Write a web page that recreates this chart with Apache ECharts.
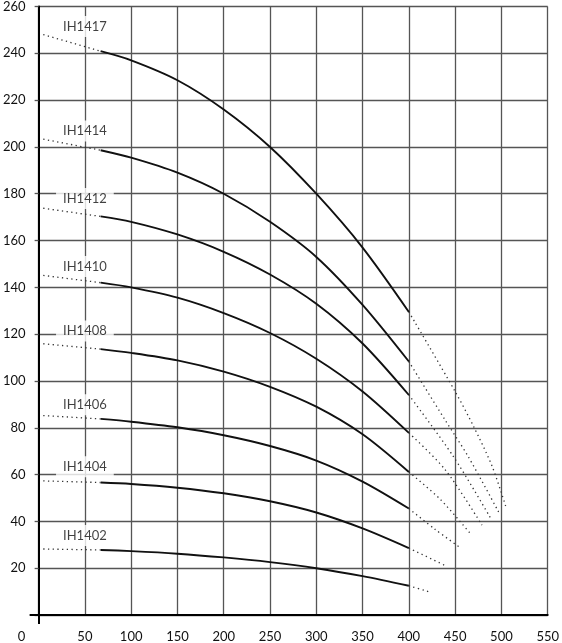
<!DOCTYPE html>
<html>
<head>
<meta charset="utf-8">
<title>IH14 pump curves</title>
<script src="https://cdn.jsdelivr.net/npm/echarts@6/dist/echarts.min.js"></script>
<style>
  html, body { margin: 0; padding: 0; background: #fff; }
  #main { width: 562px; height: 643px; }
</style>
</head>
<body>
<div id="main"></div>
<script>
// pump models, top to bottom
var models = ['IH1417', 'IH1414', 'IH1412', 'IH1410', 'IH1408', 'IH1406', 'IH1404', 'IH1402'];

// flow values where the solid curves were read
var solidFlow = [67, 100, 150, 200, 250, 300, 350, 400];

// head values along each solid curve
var headIH1417 = [240.9, 237, 228.5, 216, 200, 180, 157, 129.5];
var headIH1414 = [198.6, 195.4, 189, 180, 168, 153, 132.5, 108.3];
var headIH1412 = [170.3, 168, 162.6, 155.2, 145.5, 133, 116, 94];
var headIH1410 = [142, 140, 135.6, 129, 120.5, 109.5, 95.5, 77.8];
var headIH1408 = [113.6, 112, 108.8, 104, 97.5, 89, 77.2, 61.1];
var headIH1406 = [83.8, 82.6, 80.2, 76.8, 72.2, 66, 57, 45.5];
var headIH1404 = [56.6, 56, 54.4, 52, 48.6, 43.8, 37, 28.6];
var headIH1402 = [27.8, 27.3, 26.2, 24.6, 22.6, 20, 16.6, 12.5];

// dotted start on the left (flow, heads)
var leftFlow = 5;
var leftHead = [248, 203.3, 173.8, 145.1, 115.9, 85.2, 57.3, 28.2];

// dotted tails on the right [flow, head]
var tailIH1417 = [[400, 129.5], [450, 95.5], [470, 80.5], [490, 63.5], [505, 46]];
var tailIH1414 = [[400, 108.3], [439, 83.4], [464, 67.8], [497, 44]];
var tailIH1412 = [[400, 94], [448, 67.8], [488, 41.6]];
var tailIH1410 = [[400, 77.8], [439, 62.2], [479, 38.4]];
var tailIH1408 = [[400, 61.1], [434, 49.4], [467, 34.5]];
var tailIH1406 = [[400, 45.5], [428, 36.7], [454, 29.2]];
var tailIH1404 = [[400, 28.6], [441, 20.8]];
var tailIH1402 = [[400, 12.5], [421, 10]];

// where the model names sit
var labelFlow = 50;
var labelHead = [251.5, 206.8, 178, 148.9, 121.3, 89.8, 63.3, 34];

// tick values
var xTicks = { min: 0, max: 550, step: 50 };
var yTicks = { min: 0, max: 260, step: 20 };

var heads = [headIH1417, headIH1414, headIH1412, headIH1410, headIH1408, headIH1406, headIH1404, headIH1402];
var tails = [tailIH1417, tailIH1414, tailIH1412, tailIH1410, tailIH1408, tailIH1406, tailIH1404, tailIH1402];

var chart = echarts.init(document.getElementById('main'));

var font = 'Lato, "DejaVu Sans", sans-serif';
var dots = [1.3, 3.4];
var gridColor = '#555';

var series = [];

// model names with white box over the grid
series.push({
    type: 'scatter',
    z: 1,
    symbolSize: 0,
    silent: true,
    data: models.map(function (m, i) {
        return { name: m, value: [labelFlow, labelHead[i]] };
    }),
    label: {
        show: true,
        position: 'inside',
        formatter: '{b}',
        color: '#111',
        fontFamily: font,
        fontSize: 13,
        backgroundColor: '#fff',
        padding: [4, 7]
    }
});

models.forEach(function (m, i) {
    var h = heads[i];
    // solid part
    series.push({
        name: m,
        type: 'line',
        z: 3,
        symbol: 'none',
        smooth: 0.3,
        silent: true,
        data: solidFlow.map(function (q, k) { return [q, h[k]]; }),
        lineStyle: { color: '#111', width: 1.9 }
    });
    // dotted left start
    series.push({
        type: 'line',
        z: 3,
        symbol: 'none',
        silent: true,
        data: [[leftFlow, leftHead[i]], [solidFlow[0], h[0]]],
        lineStyle: { color: '#333', width: 1.3, type: dots }
    });
    // dotted right tail
    series.push({
        type: 'line',
        z: 3,
        symbol: 'none',
        smooth: 0.3,
        silent: true,
        data: tails[i],
        lineStyle: { color: '#333', width: 1.3, type: dots }
    });
});

var option = {
    animation: false,
    backgroundColor: '#fff',
    grid: { left: 33, right: 11, top: 5, bottom: 27 },
    xAxis: [{
        type: 'value',
        min: xTicks.min,
        max: xTicks.max,
        interval: xTicks.step,
        axisLine: { lineStyle: { color: '#000', width: 2 } },
        axisTick: { show: false },
        axisLabel: {
            margin: 15,
            color: '#111',
            fontFamily: font,
            fontSize: 13,
            formatter: function (v) { return v === 0 ? '{o|0}' : String(v); },
            rich: { o: { padding: [0, 34, 0, 0], fontFamily: font, fontSize: 13, color: '#111' } }
        },
        splitLine: { show: true, lineStyle: { color: gridColor, width: 1.3 } }
    }, {
        // only the short overhang of the y axis below the origin
        type: 'value',
        min: xTicks.min,
        max: xTicks.max,
        position: 'bottom',
        axisLine: { show: false },
        axisLabel: { show: false },
        splitLine: { show: false },
        axisTick: {
            show: true,
            customValues: [0],
            length: 9,
            lineStyle: { color: '#000', width: 2 }
        }
    }],
    yAxis: [{
        type: 'value',
        min: yTicks.min,
        max: yTicks.max,
        interval: yTicks.step,
        axisLine: { show: true, lineStyle: { color: '#000', width: 2 } },
        axisTick: { show: true, length: 4, lineStyle: { color: gridColor, width: 1.3 } },
        axisLabel: {
            margin: 13,
            color: '#111',
            fontFamily: font,
            fontSize: 13,
            formatter: function (v) { return v === 0 ? '' : String(v); }
        },
        splitLine: { show: true, lineStyle: { color: gridColor, width: 1.3 } }
    }, {
        // only the short overhang of the x axis left of the origin
        type: 'value',
        min: yTicks.min,
        max: yTicks.max,
        position: 'left',
        axisLine: { show: false },
        axisLabel: { show: false },
        splitLine: { show: false },
        axisTick: {
            show: true,
            customValues: [0],
            length: 9,
            lineStyle: { color: '#000', width: 2 }
        }
    }],
    series: series
};

chart.setOption(option);
</script>
</body>
</html>
